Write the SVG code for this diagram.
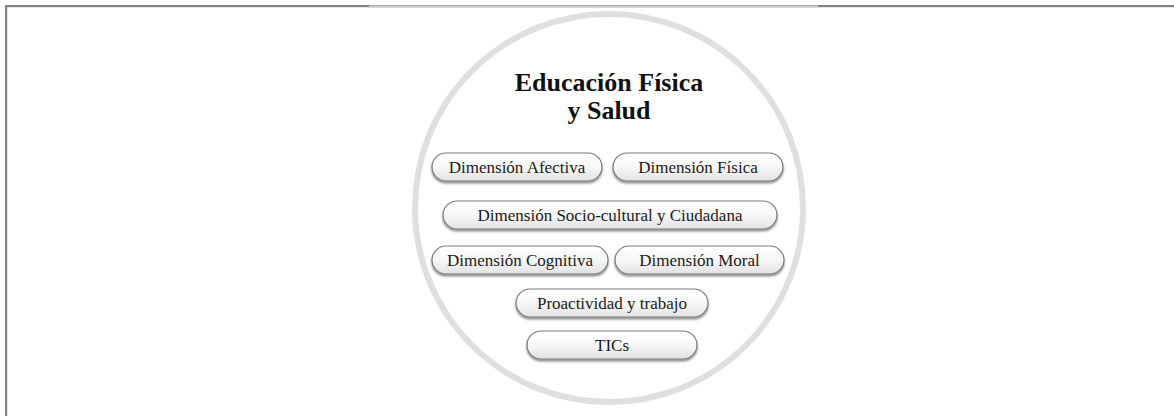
<svg xmlns="http://www.w3.org/2000/svg" width="1174" height="416" viewBox="0 0 1174 416">
  <defs>
    <linearGradient id="pillGrad" x1="0" y1="0" x2="0" y2="1">
      <stop offset="0" stop-color="#ffffff"/>
      <stop offset="0.5" stop-color="#f7f7f7"/>
      <stop offset="1" stop-color="#e2e2e2"/>
    </linearGradient>
    <filter id="shadow" x="-10%" y="-20%" width="120%" height="160%">
      <feGaussianBlur in="SourceAlpha" stdDeviation="1"/>
      <feOffset dx="0" dy="1.5" result="b"/>
      <feComponentTransfer><feFuncA type="linear" slope="0.45"/></feComponentTransfer>
      <feMerge><feMergeNode/><feMergeNode in="SourceGraphic"/></feMerge>
    </filter>
  </defs>
  <style>
    .pill { fill: url(#pillGrad); stroke: #7a7a7a; stroke-width: 1.2; filter: url(#shadow); }
    .lbl { font-family: "Liberation Serif", "Times New Roman", serif; font-size: 17px; fill: #1a1a1a; text-anchor: middle; }
    .title { font-family: "Liberation Serif", "Times New Roman", serif; font-size: 26px; font-weight: bold; fill: #111; text-anchor: middle; }
  </style>
  <rect width="1174" height="416" fill="#ffffff"/>
  <g id="frame">
    <rect x="5" y="5" width="1169" height="2.2" fill="#808080"/>
    <rect x="5" y="5" width="2.2" height="411" fill="#808080"/>
    <rect x="369" y="5" width="449" height="3" fill="#d4d4d4"/>
    <rect x="369" y="5" width="449" height="1.2" fill="#a8a8a8"/>
  </g>
  <g id="circle">
    <circle cx="609" cy="208" r="194" fill="none" stroke="#dfdfdf" stroke-width="6"/>
  </g>
  <g id="title">
    <text class="title" x="609" y="91">Educación Física</text>
    <text class="title" x="609" y="119">y Salud</text>
  </g>
  <g id="connectors"></g>
  <g id="n-afectiva">
    <rect class="pill" x="432" y="153" width="170" height="28" rx="14"/>
    <text class="lbl" x="517" y="173">Dimensión Afectiva</text>
  </g>
  <g id="n-fisica">
    <rect class="pill" x="613" y="153" width="170" height="28" rx="14"/>
    <text class="lbl" x="698" y="173">Dimensión Física</text>
  </g>
  <g id="n-socio">
    <rect class="pill" x="443" y="201" width="334" height="28" rx="14"/>
    <text class="lbl" x="610" y="221">Dimensión Socio-cultural y Ciudadana</text>
  </g>
  <g id="n-cognitiva">
    <rect class="pill" x="432" y="246" width="176" height="28" rx="14"/>
    <text class="lbl" x="520" y="266">Dimensión Cognitiva</text>
  </g>
  <g id="n-moral">
    <rect class="pill" x="615" y="246" width="169" height="28" rx="14"/>
    <text class="lbl" x="699.5" y="266">Dimensión Moral</text>
  </g>
  <g id="n-proactividad">
    <rect class="pill" x="516" y="289" width="192" height="28" rx="14"/>
    <text class="lbl" x="612" y="309">Proactividad y trabajo</text>
  </g>
  <g id="n-tics">
    <rect class="pill" x="527" y="331" width="170" height="28" rx="14"/>
    <text class="lbl" x="612" y="351">TICs</text>
  </g>
</svg>
